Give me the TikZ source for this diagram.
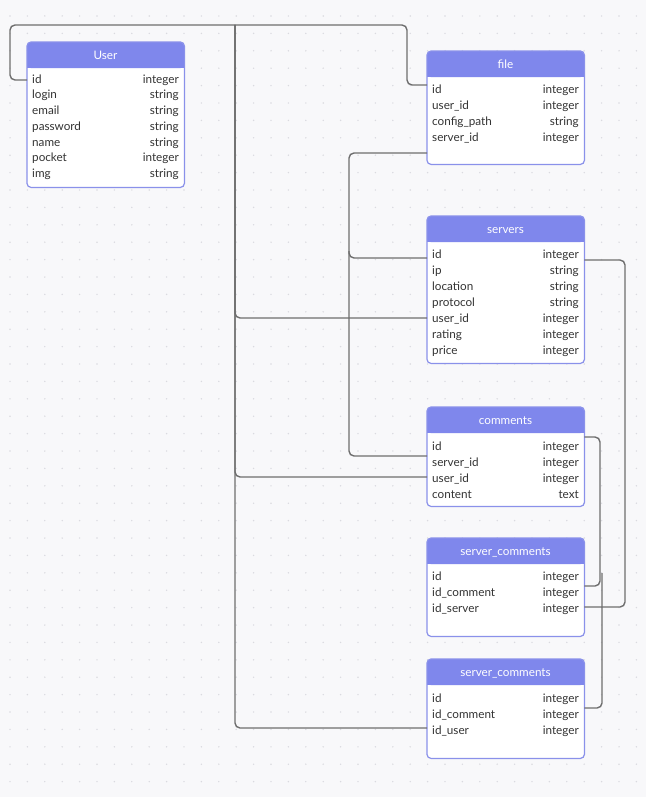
\documentclass[tikz,border=0pt]{standalone}
\usepackage{fontspec}
\setmainfont{Lato}
\definecolor{bgcol}{HTML}{F8F8FA}
\definecolor{dotcol}{HTML}{DADAE0}
\definecolor{headcol}{HTML}{7F87EC}
\definecolor{bordcol}{HTML}{8A91EA}
\definecolor{txtcol}{HTML}{333333}
\definecolor{conncol}{HTML}{6E6E6E}
\tikzset{
  conn/.style={draw=conncol, line width=1.4pt, rounded corners=5pt},
  tbody/.style={fill=white, rounded corners=4pt, inner sep=0pt, minimum width=157pt, anchor=north west},
  thead/.style={fill=headcol, rounded corners=4pt, inner sep=0pt, minimum width=157pt, minimum height=26pt, anchor=north west},
  tborder/.style={draw=bordcol, line width=1.2pt, rounded corners=4pt},
  ttitle/.style={text=white, font=\fontsize{11.7}{13}\selectfont, inner sep=0pt, anchor=base},
  fname/.style={text=txtcol, font=\fontsize{11.7}{13}\selectfont, inner sep=0pt, anchor=base west},
  ftype/.style={text=txtcol, font=\fontsize{11.7}{13}\selectfont, inner sep=0pt, anchor=base east},
}
\newcommand\ertable[5]{%
  \node[tbody, minimum height=#5pt-#4pt] (#1) at (#3,#4) {};
  \node[thead] (#1-head) at (#3,#4) {};
  \fill[headcol] (#3,#4+14) rectangle (#3+157,#4+26);
  \draw[tborder] (#1.north west) rectangle (#1.south east);
  \node[ttitle] (#1-title) at (#3+78.5,#4+17.5) {#2};
}
\newcommand\errow[6]{%
  \node[fname] (#1-#2) at (#3+5,#4) {#5};
  \node[ftype] (#1-#2-type) at (#3+152,#4) {#6};
}
\begin{document}
\begin{tikzpicture}[x=1pt,y=-1pt]
\useasboundingbox (0,0) rectangle (646,797);
\fill[bgcol] (0,0) rectangle (646,797);
\foreach \i in {0,...,36}{\foreach \j in {0,...,45}{\fill[dotcol] (10+17.4*\i,16+17.4*\j) circle (0.8pt);}}

% tables
\ertable{user}{User}{27}{42}{187}
\ertable{file}{file}{427}{51}{164}
\ertable{servers}{servers}{427}{216}{363}
\ertable{comments}{comments}{427}{407}{506}
\ertable{sca}{server\_comments}{427}{538}{636}
\ertable{scb}{server\_comments}{427}{659}{758}

% connectors
\coordinate (j0) at (235,25);
\coordinate (j1) at (602,573);
\coordinate (j2) at (349,251);
\draw[conn] (user.west |- 0,80) -- (10,80) -- (10,25) -- (407,25) -- (407,85) -- (file.west |- 0,85);
\draw[conn] (j0) -- (235,318) -- (servers.west |- 0,318);
\draw[conn] (j0) -- (235,477) -- (comments.west |- 0,477);
\draw[conn] (j0) -- (235,728) -- (scb.west |- 0,728);
\draw[conn] (file.west |- 0,153) -- (349,153) -- (349,258) -- (servers.west |- 0,258);
\draw[conn] (comments.west |- 0,456) -- (349,456) -- (j2);
\draw[conn] (servers.east |- 0,260) -- (625,260) -- (625,607) -- (sca.east |- 0,607);
\draw[conn] (comments.east |- 0,437) -- (600,437) -- (600,586) -- (sca.east |- 0,586);
\draw[conn] (j1) -- (602,708) -- (scb.east |- 0,708);

% rows
\errow{user}{id}{27}{83.3}{id}{integer}
\errow{user}{login}{27}{99}{login}{string}
\errow{user}{email}{27}{114.7}{email}{string}
\errow{user}{password}{27}{130.4}{password}{string}
\errow{user}{name}{27}{146.1}{name}{string}
\errow{user}{pocket}{27}{161.8}{pocket}{integer}
\errow{user}{img}{27}{177.5}{img}{string}

\errow{file}{id}{427}{93.3}{id}{integer}
\errow{file}{userid}{427}{109.3}{user\_id}{integer}
\errow{file}{config}{427}{125.3}{config\_path}{string}
\errow{file}{serverid}{427}{141.3}{server\_id}{integer}

\errow{servers}{id}{427}{258.3}{id}{integer}
\errow{servers}{ip}{427}{274.3}{ip}{string}
\errow{servers}{location}{427}{290.3}{location}{string}
\errow{servers}{protocol}{427}{306.3}{protocol}{string}
\errow{servers}{userid}{427}{322.3}{user\_id}{integer}
\errow{servers}{rating}{427}{338.3}{rating}{integer}
\errow{servers}{price}{427}{354.3}{price}{integer}

\errow{comments}{id}{427}{450}{id}{integer}
\errow{comments}{serverid}{427}{466}{server\_id}{integer}
\errow{comments}{userid}{427}{482}{user\_id}{integer}
\errow{comments}{content}{427}{498}{content}{text}

\errow{sca}{id}{427}{580.7}{id}{integer}
\errow{sca}{idcomment}{427}{596.7}{id\_comment}{integer}
\errow{sca}{idserver}{427}{612.7}{id\_server}{integer}

\errow{scb}{id}{427}{702.7}{id}{integer}
\errow{scb}{idcomment}{427}{718.7}{id\_comment}{integer}
\errow{scb}{iduser}{427}{734.7}{id\_user}{integer}
\end{tikzpicture}
\end{document}
